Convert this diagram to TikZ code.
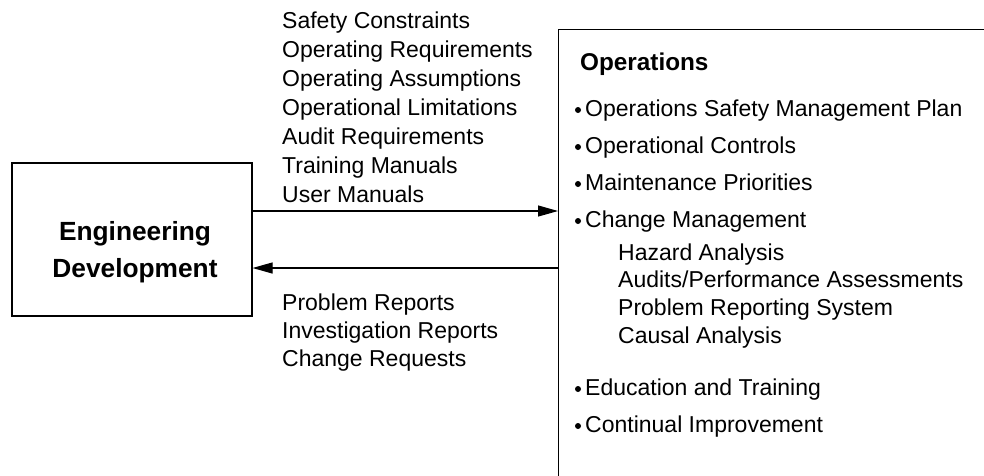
\documentclass[tikz,border=0pt]{standalone}
\usepackage{fontspec}
\setmainfont{Liberation Sans}
\usetikzlibrary{arrows.meta,positioning}

\tikzset{
  box/.style={draw, line width=1.1pt, inner sep=0pt},
  flow/.style={-{Triangle[length=20pt,width=11pt]}, line width=1.1pt},
  txt/.style={anchor=base west, inner sep=0pt, font=\fontsize{23}{29}\selectfont},
  head/.style={anchor=base west, inner sep=0pt, font=\bfseries\fontsize{24.3}{29}\selectfont},
  big/.style={anchor=base, inner sep=0pt, font=\bfseries\fontsize{26.3}{37}\selectfont},
  dot/.style={radius=3pt},
}

\begin{document}
\begin{tikzpicture}[x=1pt,y=-1pt]
  \useasboundingbox (0,0) rectangle (984,475);
  \clip (0,0) rectangle (984,475);

  % Engineering side
  \node[box, minimum width=240pt, minimum height=153pt] (eng) at (132,239.5) {};
  \node[big] (engA) at (135,240) {Engineering};
  \node[big] (engB) at (135,277) {Development};

  % Operations side (runs off the page)
  \node[box, minimum width=500pt, minimum height=500pt, anchor=north west] (ops) at (558,29) {};
  \node[head] (opshead) at (580,70) {Operations};

  % Flows
  \coordinate (outy) at (0,211);
  \coordinate (backy) at (0,268);
  \draw[flow] (eng.east |- outy) -- (ops.west |- outy);
  \draw[flow] (ops.west |- backy) -- (eng.east |- backy);

  % What goes to operations
  \foreach \y/\t [count=\i] in {28/Safety Constraints, 57/Operating Requirements,
      86/Operating Assumptions, 115/Operational Limitations, 144/Audit Requirements,
      173/Training Manuals, 202/User Manuals}
    \node[txt] (down\i) at (282,\y) {\t};

  % What comes back
  \foreach \y/\t [count=\i] in {310/Problem Reports, 338/Investigation Reports,
      366/Change Requests}
    \node[txt] (up\i) at (282,\y) {\t};

  % Bullet items
  \foreach \y/\t [count=\i] in {116/Operations Safety Management Plan,
      153/Operational Controls, 190/Maintenance Priorities, 227/Change Management,
      395/Education and Training, 432/Continual Improvement} {
    \node[txt] (item\i) at (585,\y) {\t};
    \fill ([shift={(-7,-6)}]item\i.base west) circle[dot];
  }

  % Change management parts
  \foreach \y/\t [count=\i] in {260/Hazard Analysis, 287/{Audits/Performance Assessments},
      315/Problem Reporting System, 343/Causal Analysis}
    \node[txt] (sub\i) at (618,\y) {\t};
\end{tikzpicture}
\end{document}
